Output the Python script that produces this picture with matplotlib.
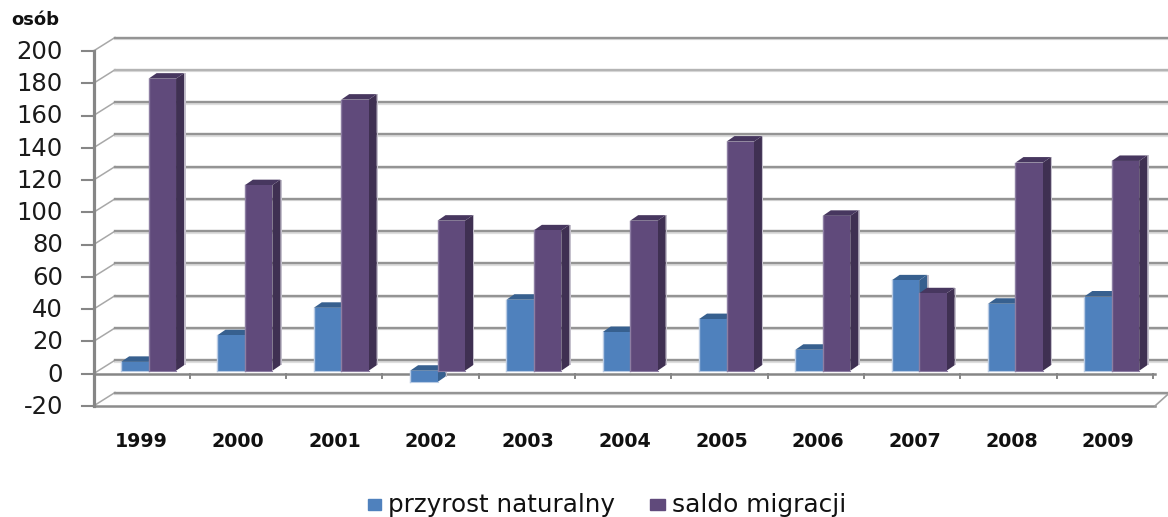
import matplotlib
matplotlib.use("Agg")
import matplotlib.pyplot as plt
from matplotlib.patches import Polygon

# values
years = ["1999", "2000", "2001", "2002", "2003", "2004", "2005", "2006", "2007", "2008", "2009"]
przyrost = [5.5, 22, 39, -7, 44, 24, 32, 13, 56, 41.5, 46]
saldo = [181, 115, 168, 93, 87, 93, 142, 96, 48, 129, 130]
y_ticks = [-20, 0, 20, 40, 60, 80, 100, 120, 140, 160, 180, 200]

W, H = 1168, 517
fig = plt.figure(figsize=(W / 100, H / 100), dpi=100)
# axes box = front plane of the 3d chart, in pixels
left, right, top, bottom = 93.5, 1153, 51, 406
ax = fig.add_axes([left / W, 1 - bottom / H, (right - left) / W, (bottom - top) / H])
ax.set_xlim(0, 11)
ax.set_ylim(-20, 200)
ax.axis("off")

# pixel to data scale, for the depth of the 3d look
px_x = 11 / (right - left)
px_y = 220 / (bottom - top)


def draw_bar(x0, w, v, front, topc, side, edge):
    # bar stands a little behind the front plane
    b = 3 * px_y
    dx, dy = 8 * px_x, 5.5 * px_y
    low, high = min(v, 0) + b, max(v, 0) + b
    # light shadow on the right of the bar
    ax.add_patch(Polygon([(x0 + w + dx, low + dy), (x0 + w + dx + 1.5 * px_x, low + dy),
                          (x0 + w + dx + 1.5 * px_x, high + dy), (x0 + w + dx, high + dy)],
                         color="#c4c0cc", lw=0, zorder=3))
    ax.add_patch(Polygon([(x0 + w, low), (x0 + w + dx, low + dy), (x0 + w + dx, high + dy), (x0 + w, high)],
                         color=side, lw=0, zorder=3))
    ax.add_patch(Polygon([(x0, high), (x0 + dx, high + dy), (x0 + w + dx, high + dy), (x0 + w, high)],
                         color=topc, lw=0, zorder=3))
    ax.add_patch(Polygon([(x0, low), (x0 + w, low), (x0 + w, high), (x0, high)],
                         color=front, lw=0, zorder=4))
    # soft edge on the left and at the foot
    ax.plot([x0, x0], [low, high], color=edge, lw=1, zorder=4)
    ax.plot([x0, x0 + w], [low, low], color=edge, lw=0.8, zorder=4)


# grid on the back wall with the slanted side wall lines
back_x, back_y = 21.5 * px_x, 13.5 * px_y
for t in y_ticks:
    gc = "#b4b4b4" if t == 180 else "#949494"
    ax.plot([back_x, 11 + back_x], [t + back_y - 1.5 * px_y] * 2, color="#dedede", lw=1.6, zorder=1, clip_on=False)
    ax.plot([0, back_x], [t, t + back_y], color="#a8a8a8", lw=1.1, zorder=1, clip_on=False)
    ax.plot([back_x, 11 + back_x], [t + back_y, t + back_y], color=gc, lw=1.7, zorder=1, clip_on=False)
    ax.plot([-0.115, 0], [t, t], color="#868686", lw=1.5, zorder=2, clip_on=False)
    ax.text(-0.317, t - 0.5, str(t), ha="right", va="center", fontsize=17.5, color="#1a1a1a",
            family="DejaVu Sans", clip_on=False)
# lower floor edge
ax.plot([0, 11.02], [-20, -20], color="#8c8c8c", lw=1.8, zorder=2, clip_on=False)
ax.plot([11.02, 11.16], [-20, -20 + back_y * 0.9], color="#a0a0a0", lw=1.2, zorder=2, clip_on=False)
# axes
ax.plot([0, 0], [-20, 200], color="#868686", lw=2.3, zorder=2, clip_on=False)
ax.plot([0, 11.02], [0, 0], color="#868686", lw=1.8, zorder=2, clip_on=False)
for i in range(1, 12):
    ax.plot([i, i], [0, -2.6], color="#868686", lw=1.4, zorder=2, clip_on=False)

for i, y in enumerate(years):
    draw_bar(i + 0.287, 0.285, przyrost[i], "#4f81bd", "#37608f", "#37608f", "#b9cbe4")
    draw_bar(i + 0.572, 0.285, saldo[i], "#604a7b", "#47375f", "#3f3052", "#8d7ea3")
    ax.text(i * 1.004 + 0.495, -42, y, ha="center", va="center", fontsize=13.7, fontweight="bold",
            family="DejaVu Sans", color="#111111", clip_on=False)

fig.text(11 / W, 1 - 20 / H, "osób", fontsize=13, fontweight="bold", family="DejaVu Sans",
         color="#111111", va="center")

# legend drawn by hand so the markers sit where they do in the chart
fig.patches.append(plt.Rectangle((368 / W, 1 - 510 / H), 13 / W, 11 / H, transform=fig.transFigure,
                                 color="#4f81bd"))
fig.patches.append(plt.Rectangle((650 / W, 1 - 510 / H), 15 / W, 11 / H, transform=fig.transFigure,
                                 color="#604a7b"))
fig.text(388 / W, 1 - 505 / H, "przyrost naturalny", fontsize=17.7, family="DejaVu Sans",
         color="#111111", va="center")
fig.text(672 / W, 1 - 505 / H, "saldo migracji", fontsize=17.9, family="DejaVu Sans",
         color="#111111", va="center")

fig.savefig("out.png", dpi=100)
